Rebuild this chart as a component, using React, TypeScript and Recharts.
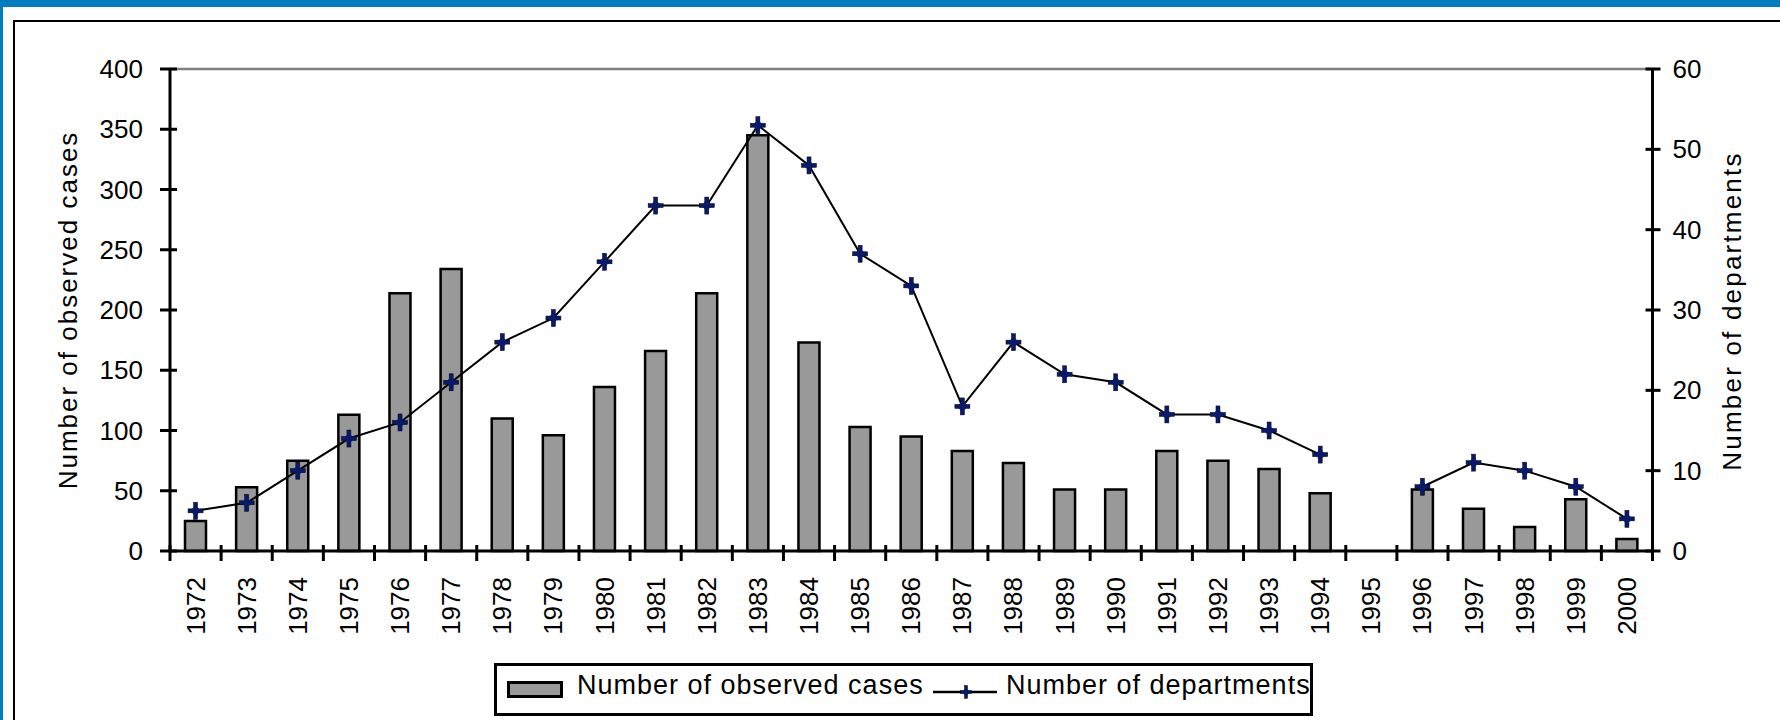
import React from 'react';
import { ComposedChart, Bar, Line, XAxis, YAxis, ReferenceLine, Legend, Label } from 'recharts';

const years = ['1972','1973','1974','1975','1976','1977','1978','1979','1980','1981','1982','1983','1984','1985','1986','1987','1988','1989','1990','1991','1992','1993','1994','1995','1996','1997','1998','1999','2000'];
const observedCases = [25,53,75,113,214,234,110,96,136,166,214,345,173,103,95,83,73,51,51,83,75,68,48,null,51,35,20,43,10];
const departments = [5,6,10,14,16,21,26,29,36,43,43,53,48,37,33,18,26,22,21,17,17,15,12,null,8,11,10,8,4];
const leftTicks = [0,50,100,150,200,250,300,350,400];
const rightTicks = [0,10,20,30,40,50,60];

const data = years.map((year, i) => ({ year, cases: observedCases[i], departments: departments[i] }));

const FONT = "'Liberation Sans', Arial, sans-serif";
const NAVY = '#0a1a6a';

const Marker = ({ cx, cy, s = 1 }: { cx: number; cy: number; s?: number }) => (
  <g>
    <rect x={cx - 2 * s} y={cy - 8.5 * s} width={4 * s} height={17 * s} fill={NAVY} stroke="#000" strokeWidth={0.5} />
    <rect x={cx - 7.5 * s} y={cy - 2 * s} width={15 * s} height={4 * s} fill={NAVY} stroke="#000" strokeWidth={0.5} />
    <path d={`M${cx},${cy - 5.5 * s} L${cx + 5.5 * s},${cy} L${cx},${cy + 5.5 * s} L${cx - 5.5 * s},${cy} Z`} fill={NAVY} />
  </g>
);

const renderDot = (props: any) => {
  const { cx, cy, index, value } = props;
  if (value == null || cx == null || cy == null || isNaN(cy)) return <g key={`d${index}`} />;
  return <g key={`d${index}`}><Marker cx={cx} cy={cy} /></g>;
};

const XTick = (props: any) => {
  const { x, y, payload, index } = props;
  const half = payload && payload.offset ? payload.offset : 25.5;
  const last = index === years.length - 1;
  const ty = y + 26;
  return (
    <g>
      <line x1={x - half} x2={x - half} y1={y - 6} y2={y + 10} stroke="#000" strokeWidth={3} />
      {last && <line x1={x + half} x2={x + half} y1={y - 6} y2={y + 10} stroke="#000" strokeWidth={3} />}
      <text x={x} y={ty} transform={`rotate(-90, ${x}, ${ty})`} textAnchor="end" dominantBaseline="central" fontSize={26} fontFamily={FONT} fill="#000">{payload.value}</text>
    </g>
  );
};

const LeftTick = (props: any) => {
  const { x, y, payload } = props;
  return (
    <g>
      <line x1={x - 10} x2={x + 7} y1={y} y2={y} stroke="#000" strokeWidth={3} />
      <text x={x - 27} y={y} textAnchor="end" dominantBaseline="central" fontSize={26} fontFamily={FONT} fill="#000">{payload.value}</text>
    </g>
  );
};

const RightTick = (props: any) => {
  const { x, y, payload } = props;
  return (
    <g>
      <line x1={x - 7} x2={x + 8} y1={y} y2={y} stroke="#000" strokeWidth={3} />
      <text x={x + 20} y={y} textAnchor="start" dominantBaseline="central" fontSize={26} fontFamily={FONT} fill="#000">{payload.value}</text>
    </g>
  );
};

const LeftTitle = (props: any) => {
  const vb = props.viewBox || { x: 0, y: 69, width: 170, height: 482 };
  const x = vb.x + 77;
  const y = vb.y + vb.height / 2;
  return (
    <text x={x} y={y} transform={`rotate(-90, ${x}, ${y})`} textAnchor="middle" fontSize={26} fontFamily={FONT} letterSpacing={2} fill="#000">Number of observed cases</text>
  );
};

const RightTitle = (props: any) => {
  const vb = props.viewBox || { x: 1652, y: 69, width: 128, height: 482 };
  const x = vb.x + 88;
  const y = vb.y + vb.height / 2 + 1;
  return (
    <text x={x} y={y} transform={`rotate(-90, ${x}, ${y})`} textAnchor="middle" fontSize={26} fontFamily={FONT} letterSpacing={2.2} fill="#000">Number of departments</text>
  );
};

const LegendBox = () => (
  <div style={{ boxSizing: 'border-box', width: 819, height: 53, border: '3px solid #000', background: '#fff', position: 'relative', fontFamily: FONT, fontSize: 27, color: '#000' }}>
    <div style={{ position: 'absolute', left: 10, top: 15, width: 56, height: 17, background: '#999999', border: '3px solid #000', boxSizing: 'border-box' }} />
    <span style={{ position: 'absolute', left: 80, top: 6, lineHeight: '27px', letterSpacing: 1, whiteSpace: 'nowrap' }}>Number of observed cases</span>
    <svg style={{ position: 'absolute', left: 436, top: 16 }} width={64} height={20}>
      <line x1={0} x2={64} y1={10} y2={10} stroke="#000" strokeWidth={2.5} />
      <Marker cx={33} cy={10} s={0.75} />
    </svg>
    <span style={{ position: 'absolute', left: 509, top: 6, lineHeight: '27px', letterSpacing: 1, whiteSpace: 'nowrap' }}>Number of departments</span>
  </div>
);

export default function App() {
  return (
    <div style={{ position: 'absolute', left: 0, top: 0, width: 1780, height: 720, background: '#fff', overflow: 'hidden' }}>
      <div style={{ position: 'absolute', left: 0, top: 0, width: 1780, height: 720, boxSizing: 'border-box', borderTop: '7px solid #027BBF', borderLeft: '3px solid #027BBF' }} />
      <div style={{ position: 'absolute', left: 13, top: 20, width: 1800, height: 800, boxSizing: 'border-box', borderTop: '2.5px solid #000', borderLeft: '2.5px solid #000' }} />
      <div style={{ position: 'absolute', left: 0, top: 0 }}>
        <ComposedChart width={1780} height={720} data={data} margin={{ top: 69, right: 0, bottom: 0, left: 0 }}>
          <XAxis dataKey="year" xAxisId="x" height={169} interval={0} tickSize={0} tickMargin={0} tickLine={false}
            axisLine={{ stroke: '#000', strokeWidth: 3 }} tick={XTick} />
          <YAxis yAxisId="left" orientation="left" width={170} domain={[0, 400]} ticks={leftTicks} interval={0}
            tickSize={0} tickMargin={0} tickLine={false} axisLine={{ stroke: '#000', strokeWidth: 3 }} tick={LeftTick}>
            <Label content={LeftTitle} />
          </YAxis>
          <YAxis yAxisId="right" orientation="right" width={127.5} domain={[0, 60]} ticks={rightTicks} interval={0}
            tickSize={0} tickMargin={0} tickLine={false} axisLine={{ stroke: '#000', strokeWidth: 3 }} tick={RightTick}>
            <Label content={RightTitle} />
          </YAxis>
          <ReferenceLine y={400} yAxisId="left" xAxisId="x" stroke="#808080" strokeWidth={2.5} />
          <Bar dataKey="cases" name="Number of observed cases" xAxisId="x" yAxisId="left" barSize={21} fill="#999999" stroke="#000" strokeWidth={2.5} isAnimationActive={false} />
          <Line dataKey="departments" name="Number of departments" xAxisId="x" yAxisId="right" type="linear" stroke="#000" strokeWidth={2} connectNulls={false} dot={renderDot} activeDot={false} isAnimationActive={false} />
          <Legend layout="horizontal" verticalAlign="middle" align="center" wrapperStyle={{ left: 494, top: 663, width: 819, height: 53 }} content={() => <LegendBox />} />
        </ComposedChart>
      </div>
    </div>
  );
}
